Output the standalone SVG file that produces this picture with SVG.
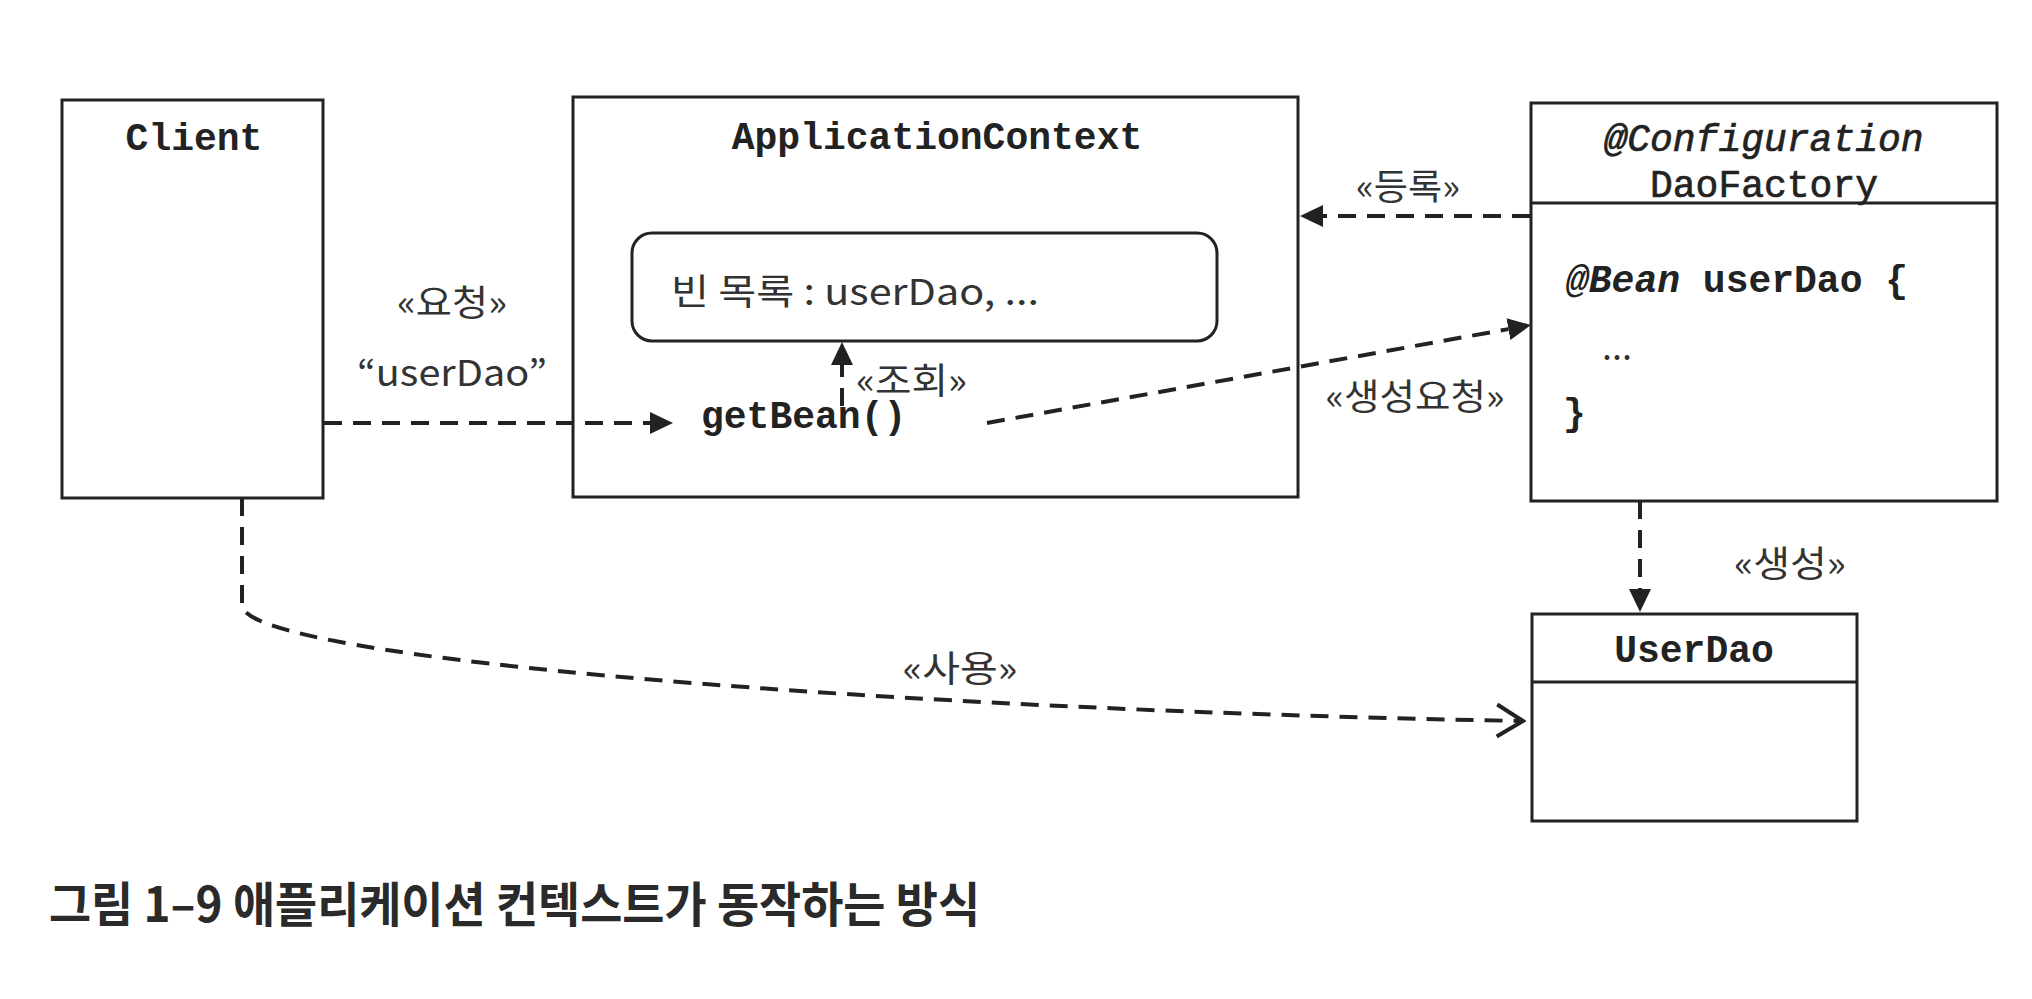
<svg xmlns="http://www.w3.org/2000/svg" width="2032" height="999" viewBox="0 0 2032 999">
<defs>
<style>
.box{fill:none;stroke:#222;stroke-width:3}
.conn{fill:none;stroke:#222;stroke-width:4;stroke-dasharray:18 11}
.mono{font-family:"Liberation Mono","Courier New",monospace;font-size:38px;font-weight:bold;fill:#222}
.monoL{font-family:"Liberation Mono","Courier New",monospace;font-size:38px;font-weight:normal;fill:#222;stroke:#222;stroke-width:0.7}
.lbl{font-family:"Noto Sans CJK KR","Noto Sans",sans-serif;font-size:36px;fill:#333}
.cap{font-family:"Noto Sans CJK KR","Noto Sans",sans-serif;font-size:48px;font-weight:bold;fill:#2a2a2a}
</style>
<marker id="tri" markerUnits="userSpaceOnUse" viewBox="0 0 23 22" markerWidth="23" markerHeight="22" refX="0" refY="11" orient="auto">
<path d="M0,0 L23,11 L0,22 z" fill="#222"/>
</marker>
<marker id="open" markerUnits="userSpaceOnUse" viewBox="-3 -3 32 38" markerWidth="32" markerHeight="38" refX="26" refY="16" orient="auto">
<path d="M0,0 L26,16 L0,32" fill="none" stroke="#222" stroke-width="4"/>
</marker>
</defs>
<rect width="2032" height="999" fill="#fff"/>

<g id="client">
<rect class="box" x="62" y="100" width="261" height="398"/>
<text class="mono" x="194" y="150" text-anchor="middle">Client</text>
</g>

<g id="applicationContext">
<rect class="box" x="573" y="97" width="725" height="400"/>
<text class="mono" x="937" y="149" text-anchor="middle">ApplicationContext</text>
<text class="mono" x="701" y="428">getBean()</text>
</g>

<g id="beanList">
<rect class="box" x="632" y="233" width="585" height="108" rx="20" ry="20"/>
<text class="lbl" x="671" y="305" font-size="39" textLength="368" lengthAdjust="spacingAndGlyphs">빈 목록 : userDao, ...</text>
</g>

<g id="daoFactory">
<rect class="box" x="1531" y="103" width="466" height="398"/>
<line class="box" x1="1531" y1="203" x2="1997" y2="203"/>
<text class="monoL" x="1764" y="151" text-anchor="middle" font-style="italic">@Configuration</text>
<text class="monoL" x="1764" y="197" text-anchor="middle">DaoFactory</text>
<text class="mono" x="1566" y="292"><tspan font-style="italic">@Bean</tspan> userDao {</text>
<text class="lbl" x="1602" y="360" font-size="22">...</text>
<text class="mono" x="1563" y="425">}</text>
</g>

<g id="userDao">
<rect class="box" x="1532" y="614" width="325" height="207"/>
<line class="box" x1="1532" y1="682" x2="1857" y2="682"/>
<text class="mono" x="1694" y="662" text-anchor="middle">UserDao</text>
</g>

<g id="connectors">
<path class="conn" d="M324,423 H650" marker-end="url(#tri)"/>
<path class="conn" d="M842,406 V365" marker-end="url(#tri)"/>
<path class="conn" d="M1530,216 H1323" marker-end="url(#tri)"/>
<path class="conn" d="M987,423 L1508.4,329.1" marker-end="url(#tri)"/>
<path class="conn" d="M1640,501 V589" marker-end="url(#tri)"/>
<path class="conn" d="M242,498 V606 C250,660 900,710 1523,721" marker-end="url(#open)"/>
<text class="lbl" x="452" y="316" text-anchor="middle" textLength="110" lengthAdjust="spacingAndGlyphs">«요청»</text>
<text class="lbl" x="452" y="386" text-anchor="middle" font-size="40" textLength="190" lengthAdjust="spacingAndGlyphs">“userDao”</text>
<text class="lbl" x="856" y="394" textLength="111" lengthAdjust="spacingAndGlyphs">«조회»</text>
<text class="lbl" x="1408" y="200" text-anchor="middle" textLength="104" lengthAdjust="spacingAndGlyphs">«등록»</text>
<text class="lbl" x="1415" y="410" text-anchor="middle" textLength="179" lengthAdjust="spacingAndGlyphs">«생성요청»</text>
<text class="lbl" x="1790" y="577" text-anchor="middle" textLength="112" lengthAdjust="spacingAndGlyphs">«생성»</text>
<text class="lbl" x="960" y="682" text-anchor="middle" textLength="115" lengthAdjust="spacingAndGlyphs">«사용»</text>
</g>

<text class="cap" x="49" y="922" textLength="931" lengthAdjust="spacingAndGlyphs">그림 1–9 애플리케이션 컨텍스트가 동작하는 방식</text>
</svg>
